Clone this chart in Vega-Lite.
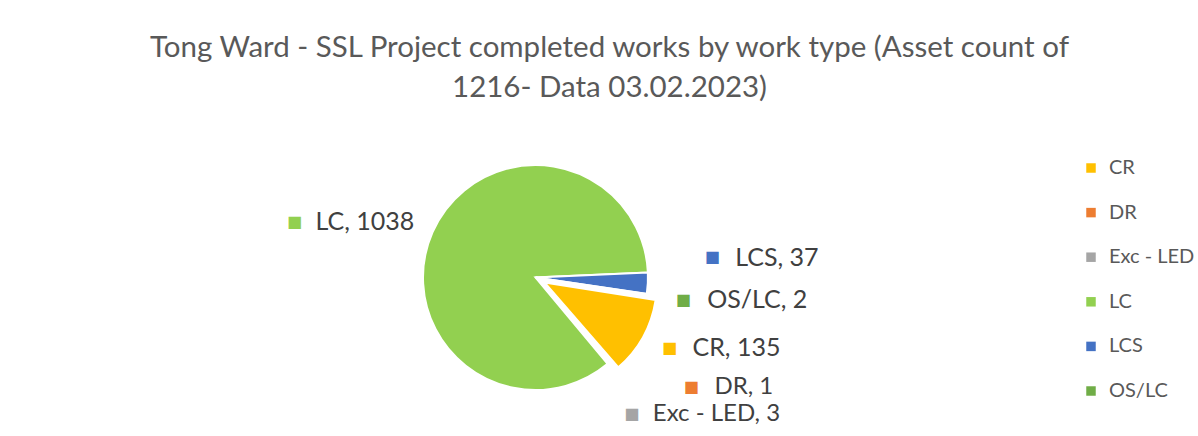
{
  "$schema": "https://vega.github.io/schema/vega-lite/v6.json",
  "autosize": {"type": "none"},
  "width": 225,
  "height": 225,
  "padding": {"left": 423, "top": 165, "right": 550, "bottom": 46},
  "background": "#ffffff",
  "config": {"view": {"stroke": null}},
  "title": {
    "text": ["Tong Ward - SSL Project completed works by work type (Asset count of", "1216- Data 03.02.2023)"],
    "font": "Lato",
    "fontSize": 29.5,
    "fontWeight": "normal",
    "color": "#595959",
    "anchor": "middle",
    "frame": "group",
    "dx": 74,
    "offset": 39,
    "lineHeight": 40
  },
  "data": {
    "values": [
      {"type": "CR", "count": 135, "label": "CR, 135"},
      {"type": "DR", "count": 1, "label": "DR, 1"},
      {"type": "Exc - LED", "count": 3, "label": "Exc - LED, 3"},
      {"type": "LC", "count": 1038, "label": "LC, 1038"},
      {"type": "LCS", "count": 37, "label": "LCS, 37"},
      {"type": "OS/LC", "count": 2, "label": "OS/LC, 2"}
    ]
  },
  "encoding": {
    "theta": {"field": "count", "type": "quantitative", "stack": true, "scale": {"range": [1.7279, 8.0111]}},
    "order": {"field": "type", "type": "ordinal", "sort": "ascending"}
  },
  "layer": [
    {
      "mark": {"type": "arc", "stroke": "#ffffff", "strokeWidth": 2},
      "encoding": {
        "color": {
          "field": "type", "type": "nominal",
          "scale": {"domain": ["CR", "DR", "Exc - LED", "LC", "LCS", "OS/LC"], "range": ["#FFC000", "#ED7D31", "#A5A5A5", "#92D050", "#4472C4", "#70AD47"]},
          "legend": {
            "orient": "none", "legendX": 658, "legendY": -7, "title": null,
            "symbolType": "square", "symbolSize": 90, "symbolStrokeWidth": 0,
            "labelFont": "Lato", "labelFontSize": 20, "labelColor": "#595959",
            "labelOffset": 8, "rowPadding": 24.6, "padding": 0
          }
        },
        "opacity": {"condition": {"test": "datum.type === 'CR'", "value": 0}, "value": 1}
      }
    },
    {
      "mark": {"type": "arc", "stroke": "#ffffff", "strokeWidth": 2, "xOffset": 9, "yOffset": 5},
      "encoding": {
        "color": {"field": "type", "type": "nominal"},
        "opacity": {"condition": {"test": "datum.type === 'CR'", "value": 1}, "value": 0}
      }
    },
    {
      "mark": {"type": "text", "radius": 200, "dx": -37, "dy": 25, "align": "left", "baseline": "middle", "font": "Lato", "fontSize": 25, "color": "#404040"},
      "encoding": {"detail": {"field": "type"}, "text": {"condition": {"test": "datum.type === 'LC'", "field": "label", "type": "nominal"}, "value": ""}}
    },
    {
      "mark": {"type": "text", "radius": 200, "dx": 0, "dy": -30, "align": "left", "baseline": "middle", "font": "Lato", "fontSize": 25, "color": "#404040"},
      "encoding": {"detail": {"field": "type"}, "text": {"condition": {"test": "datum.type === 'LCS'", "field": "label", "type": "nominal"}, "value": ""}}
    },
    {
      "mark": {"type": "text", "radius": 200, "dx": -26, "dy": -8, "align": "left", "baseline": "middle", "font": "Lato", "fontSize": 25, "color": "#404040"},
      "encoding": {"detail": {"field": "type"}, "text": {"condition": {"test": "datum.type === 'OS/LC'", "field": "label", "type": "nominal"}, "value": ""}}
    },
    {
      "mark": {"type": "text", "radius": 200, "dx": -18, "dy": -26, "align": "left", "baseline": "middle", "font": "Lato", "fontSize": 25, "color": "#404040"},
      "encoding": {"detail": {"field": "type"}, "text": {"condition": {"test": "datum.type === 'CR'", "field": "label", "type": "nominal"}, "value": ""}}
    },
    {
      "mark": {"type": "text", "radius": 200, "dx": 48, "dy": -42, "align": "left", "baseline": "middle", "font": "Lato", "fontSize": 24, "color": "#404040"},
      "encoding": {"detail": {"field": "type"}, "text": {"condition": {"test": "datum.type === 'DR'", "field": "label", "type": "nominal"}, "value": ""}}
    },
    {
      "mark": {"type": "text", "radius": 200, "dx": -12, "dy": -16, "align": "left", "baseline": "middle", "font": "Lato", "fontSize": 24, "color": "#404040"},
      "encoding": {"detail": {"field": "type"}, "text": {"condition": {"test": "datum.type === 'Exc - LED'", "field": "label", "type": "nominal"}, "value": ""}}
    },
    {
      "mark": {"type": "text", "radius": 200, "dx": -58, "dy": 25, "align": "center", "baseline": "middle", "font": "DejaVu Sans", "fontSize": 16},
      "encoding": {"color": {"field": "type", "type": "nominal"}, "text": {"condition": {"test": "datum.type === 'LC'", "value": "■"}, "value": ""}}
    },
    {
      "mark": {"type": "text", "radius": 200, "dx": -23, "dy": -31, "align": "center", "baseline": "middle", "font": "DejaVu Sans", "fontSize": 16},
      "encoding": {"color": {"field": "type", "type": "nominal"}, "text": {"condition": {"test": "datum.type === 'LCS'", "value": "■"}, "value": ""}}
    },
    {
      "mark": {"type": "text", "radius": 200, "dx": -50, "dy": -8, "align": "center", "baseline": "middle", "font": "DejaVu Sans", "fontSize": 16},
      "encoding": {"color": {"field": "type", "type": "nominal"}, "text": {"condition": {"test": "datum.type === 'OS/LC'", "value": "■"}, "value": ""}}
    },
    {
      "mark": {"type": "text", "radius": 200, "dx": -41, "dy": -26, "align": "center", "baseline": "middle", "font": "DejaVu Sans", "fontSize": 16},
      "encoding": {"color": {"field": "type", "type": "nominal"}, "text": {"condition": {"test": "datum.type === 'CR'", "value": "■"}, "value": ""}}
    },
    {
      "mark": {"type": "text", "radius": 200, "dx": 25, "dy": -42, "align": "center", "baseline": "middle", "font": "DejaVu Sans", "fontSize": 16},
      "encoding": {"color": {"field": "type", "type": "nominal"}, "text": {"condition": {"test": "datum.type === 'DR'", "value": "■"}, "value": ""}}
    },
    {
      "mark": {"type": "text", "radius": 200, "dx": -33, "dy": -16, "align": "center", "baseline": "middle", "font": "DejaVu Sans", "fontSize": 16},
      "encoding": {"color": {"field": "type", "type": "nominal"}, "text": {"condition": {"test": "datum.type === 'Exc - LED'", "value": "■"}, "value": ""}}
    }
  ]
}
